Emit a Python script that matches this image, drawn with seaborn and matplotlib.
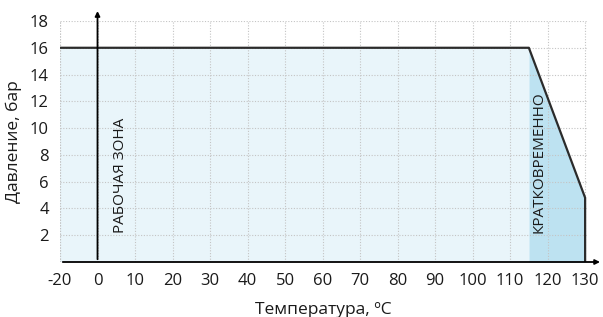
import matplotlib
matplotlib.use("Agg")
from matplotlib import pyplot as plt
import seaborn as sns
import numpy as np
import pandas as pd

# data
x_ticks = [-20, 0, 10, 20, 30, 40, 50, 60, 70, 80, 90, 100, 110, 120, 130]
y_ticks = [2, 4, 6, 8, 10, 12, 14, 16, 18]
profile_t = [-20, 115, 130, 130]
profile_p = [16, 16, 4.8, 0]
work_t = [-20, 115]
work_p = [16, 16]
short_t = [115, 130]
short_p = [16, 4.8]


# axis is compressed left of zero (-20 sits one step left of 0)
def fwd(x):
    x = np.asarray(x, dtype=float)
    return np.where(x < 0, x / 2, x)


def inv(x):
    x = np.asarray(x, dtype=float)
    return np.where(x < 0, x * 2, x)


sns.set_style("white")
plt.rcParams['font.family'] = ['Open Sans', 'DejaVu Sans']

fig = plt.figure(figsize=(6.03, 3.17), dpi=100)
ax = fig.add_axes([60 / 603, 1 - 262 / 317, 527 / 603, (262 - 21) / 317])
ax.set_xscale('function', functions=(fwd, inv))

ax.fill_between(work_t, work_p, 0, color='#e9f5fa', lw=0, zorder=0)
ax.fill_between(short_t, short_p, 0, color='#bde2f1', lw=0, zorder=0)

df = pd.DataFrame({"t": profile_t, "p": profile_p})
sns.lineplot(data=df, x="t", y="p", sort=False, estimator=None,
             color='#2b2b2b', lw=1.6, ax=ax, zorder=3)

ax.set_xlim(-20, 130.5)
ax.set_ylim(0, 18)
ax.set_xticks(x_ticks)
ax.set_xticklabels([str(v) for v in x_ticks])
ax.set_yticks(y_ticks)
ax.tick_params(axis='both', length=0, labelsize=12, colors='#1a1a1a', pad=8)
ax.grid(True, color='#c4c4c4', ls=(0, (1, 1.5)), lw=0.8)
ax.set_axisbelow(False)
for gl in ax.get_xgridlines() + ax.get_ygridlines():
    gl.set_zorder(1)
for s in ax.spines.values():
    s.set_visible(False)
ax.axvline(-20, color='#c4c4c4', ls=(0, (1, 1.5)), lw=0.8, zorder=1)

# axis arrows
ax.annotate('', xy=(1.03, 0), xytext=(0, 0), xycoords='axes fraction',
            arrowprops=dict(arrowstyle='-|>', color='black', lw=1.3, mutation_scale=7),
            annotation_clip=False, zorder=4)
ax.annotate('', xy=(0, 18.95), xytext=(0, 0), xycoords='data',
            arrowprops=dict(arrowstyle='-|>', color='black', lw=1.3, mutation_scale=7),
            annotation_clip=False, zorder=4)

ax.text(6.0, 2.2, "РАБОЧАЯ ЗОНА", rotation=90, ha='center', va='bottom',
        fontsize=11, color='#1a1a1a', zorder=5)
ax.text(117.6, 2.2, "КРАТКОВРЕМЕННО", rotation=90, ha='center', va='bottom',
        fontsize=11, color='#1a1a1a', zorder=5)

ax.set_xlabel("Температура, ºC", fontsize=12.5, color='#1a1a1a', labelpad=9)
ax.set_ylabel("Давление, бар", fontsize=12.5, color='#1a1a1a', labelpad=6)

fig.savefig("out.png", dpi=100)
